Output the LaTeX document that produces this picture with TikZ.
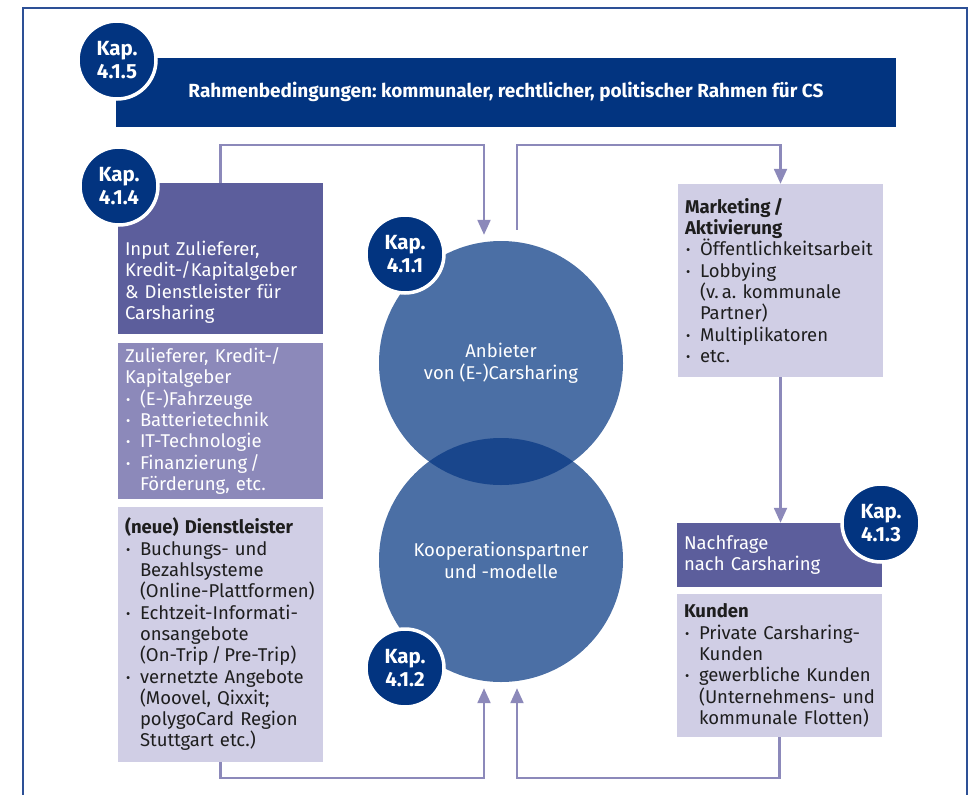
\documentclass[tikz,border=0pt]{standalone}
\usepackage{fontspec}
\setmainfont{Fira Sans}
\usetikzlibrary{arrows.meta,calc}

\definecolor{navy}{RGB}{2,52,128}
\definecolor{lilaoscuro}{RGB}{92,94,156}
\definecolor{lilamedio}{RGB}{140,137,186}
\definecolor{lilaclaro}{RGB}{208,206,229}
\definecolor{circulo}{RGB}{75,111,165}
\definecolor{cruce}{RGB}{25,70,140}
\definecolor{marco}{RGB}{45,80,150}
\definecolor{texto}{RGB}{30,30,30}

% punto de lista con sangria francesa
\newcommand{\punto}{\par\hangindent=15pt\hangafter=1\noindent\makebox[15pt][l]{\hspace{1pt}\raisebox{1pt}{\fontsize{13}{13}\selectfont\textbullet}}}
\frenchspacing
\hyphenpenalty=10000
\exhyphenpenalty=10000

\begin{document}
\begin{tikzpicture}[x=1pt,y=-1pt,
    caja/.style={rectangle, inner xsep=7pt, inner ysep=0pt, text width=191pt, align=left, font=\fontsize{18.5}{21.3}\selectfont},
    oscura/.style={caja, fill=lilaoscuro, text=white},
    media/.style={caja, fill=lilamedio, text=white},
    clara/.style={caja, fill=lilaclaro, text=texto},
    kap/.style={circle, fill=navy, draw=white, line width=3.5pt, minimum size=78pt, inner sep=0pt, align=center, text=white, font=\bfseries\fontsize{20.5}{23}\selectfont},
    esfera/.style={circle, fill=circulo, minimum size=244pt, inner sep=0pt, align=center, text=white, font=\fontsize{18.5}{22}\selectfont},
    linea/.style={draw=lilamedio, line width=2.2pt},
    flecha/.style={linea, -{Triangle[length=15pt,width=13pt]}}]
    \useasboundingbox (0,0) rectangle (975,795);
    \clip (0,0) rectangle (975,795);

    % Marco exterior
    \draw[marco, line width=2pt] (23,800) -- (23,8) -- (967,8) -- (967,800);

    % Banda superior
    \node[rectangle, fill=navy, minimum width=780pt, minimum height=69pt, text=white,
          font=\bfseries\fontsize{19}{22}\selectfont] (rahmen) at (506,92)
          {Rahmenbedingungen: kommunaler, rechtlicher, politischer Rahmen für CS};

    % Columna izquierda
    \node[oscura, minimum height=151pt] (input) at (220.5,258.5)
          {\rule{0pt}{62pt}Input Zulieferer,\\Kredit-/Kapitalgeber\\\& Dienstleister für\\Carsharing};
    \node[media, minimum height=156pt] (zulieferer) at (220.5,421)
          {Zulieferer, Kredit-/\\Kapitalgeber
           \punto (E-)Fahrzeuge
           \punto Batterietechnik
           \punto IT-Technologie
           \punto Finanzierung\,/\newline Förderung, etc.\par};
    \node[clara, minimum height=255pt] (dienst) at (220.5,634.5)
          {\bfseries (neue) Dienstleister\mdseries
           \punto Buchungs- und\newline Bezahlsysteme\newline (Online-Plattformen)
           \punto Echtzeit-Informati-\newline onsangebote\newline (On-Trip\,/\,Pre-Trip)
           \punto vernetzte Angebote\newline (Moovel, Qixxit;\newline polygoCard Region\newline Stuttgart etc.)\par};

    % Columna derecha
    \node[clara, minimum height=193pt] (marketing) at (780.5,280.5)
          {\bfseries Marketing\,/\\Aktivierung\mdseries
           \punto Öffentlichkeitsarbeit
           \punto Lobbying\newline (v.\,a. kommunale\newline Partner)
           \punto Multiplikatoren
           \punto etc.\par};
    \node[oscura, minimum height=64pt] (nachfrage) at (779.5,555)
          {Nachfrage\\nach Carsharing};
    \node[clara, minimum height=143pt] (kunden) at (779.5,665.5)
          {\bfseries Kunden\mdseries
           \punto Private Carsharing-\newline Kunden
           \punto gewerbliche Kunden\newline (Unternehmens- und\newline kommunale Flotten)\par};

    % Circulos centrales
    \node[esfera] (anbieter) at (501,363) {Anbieter\\von (E-)Carsharing};
    \node[esfera] (koop) at (501,560) {Kooperationspartner\\und -modelle};
    \begin{scope}
        \clip (anbieter.center) circle[radius=122pt];
        \fill[cruce] (koop.center) circle[radius=122pt];
    \end{scope}

    % Flechas
    \draw[flecha] (input.north) -- ++(0,-38) -| ($(anbieter.north)+(-17,-6)$);
    \draw[flecha] ($(anbieter.north)+(16,-11)$) -- ++(0,-85) -| (marketing.north);
    \draw[flecha] (marketing.south) -- (marketing.south |- nachfrage.north);
    \draw[flecha] (dienst.south) -- ++(0,16) -| ($(koop.south)+(-17,6)$);
    \draw[flecha] (kunden.south) -- ++(0,41) -| ($(koop.south)+(16,6)$);

    % Capitulos
    \node[kap] (k415) at (117,60) {Kap.\\4.1.5};
    \node[kap] (k414) at (119,186) {Kap.\\4.1.4};
    \node[kap] (k411) at (405,254) {Kap.\\4.1.1};
    \node[kap] (k412) at (405,668) {Kap.\\4.1.2};
    \node[kap] (k413) at (881,523) {Kap.\\4.1.3};
\end{tikzpicture}
\end{document}
